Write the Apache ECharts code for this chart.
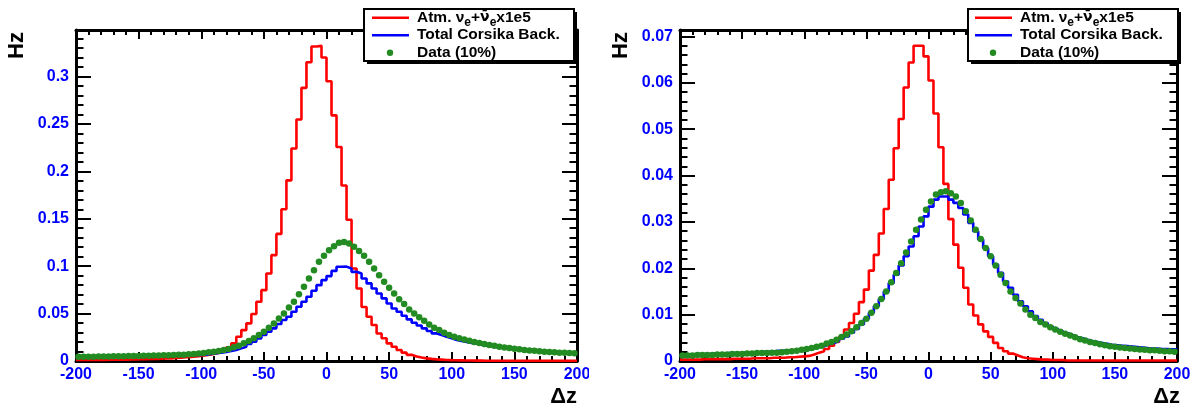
<!DOCTYPE html>
<html><head><meta charset="utf-8">
<script src="https://cdn.jsdelivr.net/npm/echarts@6/dist/echarts.min.js"></script>
<style>html,body{margin:0;padding:0;background:#fff}#c{width:1197px;height:408px}</style>
</head><body><div id="c"></div>
<script>
// ---------- data ----------
const binWidth = 4;
const binCenters = [-198,-194,-190,-186,-182,-178,-174,-170,-166,-162,
-158,-154,-150,-146,-142,-138,-134,-130,-126,-122,
-118,-114,-110,-106,-102,-98,-94,-90,-86,-82,
-78,-74,-70,-66,-62,-58,-54,-50,-46,-42,
-38,-34,-30,-26,-22,-18,-14,-10,-6,-2,
2,6,10,14,18,22,26,30,34,38,
42,46,50,54,58,62,66,70,74,78,
82,86,90,94,98,102,106,110,114,118,
122,126,130,134,138,142,146,150,154,158,
162,166,170,174,178,182,186,190,194,198];

const leftAtmNue = [0.0010,0.0010,0.0011,0.0011,0.0012,0.0012,0.0013,0.0013,0.0014,0.0015,
0.0016,0.0017,0.0018,0.0019,0.0021,0.0022,0.0024,0.0026,0.0028,0.0031,
0.0036,0.0039,0.0043,0.0048,0.0054,0.0062,0.0070,0.0080,0.0095,0.0112,
0.0145,0.0186,0.0256,0.0326,0.0397,0.0495,0.0625,0.0747,0.0923,0.1116,
0.1340,0.1600,0.1905,0.2240,0.2547,0.2880,0.3150,0.3316,0.3323,0.3200,
0.2950,0.2590,0.2256,0.1850,0.1490,0.0975,0.0765,0.0570,0.0467,0.0380,
0.0290,0.0240,0.0186,0.0150,0.0116,0.0088,0.0065,0.0048,0.0036,0.0028,
0.0022,0.0017,0.0014,0.0011,0.0009,0.0008,0.0007,0.0006,0.0005,0.0004,
0.0004,0.0003,0.0003,0.0003,0.0002,0.0002,0.0002,0.0002,0.0002,0.0001,
0.0001,0.0001,0.0001,0.0001,0.0001,0.0001,0.0001,0.0001,0.0001,0.0001];

const leftTotalCorsika = [0.0042,0.0043,0.0043,0.0044,0.0045,0.0045,0.0046,0.0047,0.0047,0.0048,
0.0049,0.0050,0.0051,0.0052,0.0053,0.0054,0.0055,0.0056,0.0057,0.0058,
0.0059,0.0060,0.0062,0.0063,0.0065,0.0067,0.0074,0.0081,0.0088,0.0095,
0.0105,0.0116,0.0133,0.0151,0.0179,0.0204,0.0239,0.0274,0.0309,0.0344,
0.0390,0.0432,0.0467,0.0519,0.0572,0.0625,0.0677,0.0740,0.0800,0.0853,
0.0895,0.0950,0.0993,0.0995,0.0975,0.0940,0.0923,0.0870,0.0818,0.0765,
0.0712,0.0660,0.0607,0.0554,0.0519,0.0477,0.0439,0.0404,0.0375,0.0344,
0.0316,0.0291,0.0274,0.0256,0.0239,0.0221,0.0210,0.0200,0.0190,0.0181,
0.0172,0.0164,0.0156,0.0149,0.0142,0.0135,0.0129,0.0123,0.0117,0.0112,
0.0107,0.0102,0.0098,0.0094,0.0090,0.0087,0.0084,0.0081,0.0079,0.0077];

const leftData = [0.0044,0.0045,0.0045,0.0046,0.0047,0.0047,0.0048,0.0049,0.0050,0.0051,
0.0052,0.0053,0.0054,0.0055,0.0056,0.0057,0.0058,0.0060,0.0061,0.0063,
0.0065,0.0067,0.0070,0.0073,0.0078,0.0084,0.0091,0.0098,0.0105,0.0116,
0.0126,0.0144,0.0161,0.0186,0.0211,0.0239,0.0274,0.0309,0.0351,0.0396,
0.0449,0.0502,0.0565,0.0625,0.0705,0.0782,0.0870,0.0958,0.1046,0.1109,
0.1168,0.1210,0.1246,0.1256,0.1239,0.1204,0.1161,0.1109,0.1046,0.0975,
0.0905,0.0835,0.0772,0.0712,0.0650,0.0600,0.0544,0.0502,0.0460,0.0425,
0.0386,0.0351,0.0326,0.0298,0.0274,0.0256,0.0240,0.0226,0.0213,0.0201,
0.0190,0.0179,0.0169,0.0160,0.0151,0.0143,0.0136,0.0129,0.0123,0.0117,
0.0112,0.0107,0.0102,0.0098,0.0094,0.0091,0.0088,0.0086,0.0084,0.0082];

const rightAtmNue = [0.0003,0.0003,0.0003,0.0003,0.0004,0.0004,0.0004,0.0004,0.0004,0.0004,
0.0005,0.0005,0.0005,0.0005,0.0006,0.0006,0.0006,0.0006,0.0007,0.0007,
0.0007,0.0008,0.0008,0.0009,0.0010,0.0011,0.0014,0.0018,0.0021,0.0026,
0.0033,0.0041,0.0052,0.0068,0.0082,0.0102,0.0127,0.0154,0.0195,0.0229,
0.0275,0.0328,0.0391,0.0459,0.0522,0.0590,0.0644,0.0680,0.0680,0.0657,
0.0605,0.0534,0.0461,0.0382,0.0306,0.0251,0.0201,0.0158,0.0122,0.0098,
0.0079,0.0064,0.0052,0.0039,0.0028,0.0021,0.0016,0.0012,0.0008,0.0006,
0.0005,0.0004,0.0003,0.0003,0.0002,0.0002,0.0002,0.0001,0.0001,0.0001,
0.0001,0.0001,0.0001,0.0001,0.0001,0.0001,0.0001,0.0001,0.0001,0.0001,
0.0001,0.0001,0.0001,0.0001,0.0001,0.0001,0.0001,0.0001,0.0001,0.0001];

const rightTotalCorsika = [0.0014,0.0014,0.0014,0.0015,0.0015,0.0015,0.0016,0.0016,0.0016,0.0017,
0.0017,0.0017,0.0018,0.0018,0.0019,0.0019,0.0020,0.0020,0.0021,0.0022,
0.0022,0.0023,0.0023,0.0024,0.0024,0.0025,0.0027,0.0030,0.0032,0.0036,
0.0039,0.0043,0.0048,0.0053,0.0061,0.0069,0.0079,0.0091,0.0104,0.0118,
0.0134,0.0150,0.0168,0.0186,0.0206,0.0226,0.0247,0.0269,0.0290,0.0312,
0.0333,0.0348,0.0355,0.0355,0.0348,0.0341,0.0330,0.0316,0.0298,0.0280,
0.0262,0.0244,0.0226,0.0208,0.0190,0.0172,0.0158,0.0143,0.0129,0.0118,
0.0107,0.0097,0.0089,0.0082,0.0075,0.0070,0.0065,0.0060,0.0056,0.0052,
0.0049,0.0046,0.0043,0.0041,0.0039,0.0037,0.0035,0.0034,0.0033,0.0032,
0.0031,0.0030,0.0029,0.0028,0.0027,0.0027,0.0026,0.0026,0.0025,0.0025];

const rightData = [0.0012,0.0012,0.0012,0.0013,0.0013,0.0013,0.0013,0.0014,0.0014,0.0014,
0.0015,0.0015,0.0015,0.0016,0.0016,0.0017,0.0017,0.0017,0.0018,0.0018,
0.0019,0.0020,0.0021,0.0022,0.0024,0.0026,0.0028,0.0031,0.0033,0.0038,
0.0041,0.0046,0.0052,0.0057,0.0064,0.0073,0.0082,0.0091,0.0104,0.0118,
0.0134,0.0150,0.0170,0.0190,0.0211,0.0234,0.0258,0.0283,0.0305,0.0326,
0.0344,0.0359,0.0364,0.0366,0.0362,0.0355,0.0341,0.0323,0.0303,0.0283,
0.0263,0.0244,0.0226,0.0206,0.0186,0.0168,0.0150,0.0136,0.0124,0.0111,
0.0100,0.0093,0.0084,0.0079,0.0073,0.0068,0.0063,0.0059,0.0055,0.0051,
0.0047,0.0044,0.0041,0.0039,0.0036,0.0034,0.0032,0.0031,0.0029,0.0028,
0.0027,0.0026,0.0025,0.0024,0.0023,0.0023,0.0022,0.0021,0.0021,0.0020];

const seriesNames = ['Atm. \u03BDe+\u03BD\u0304ex1e5', 'Total Corsika Back.', 'Data (10%)'];
const xRange = [-200, 200];
const xMajor = 50;
const yMaxes = [0.349, 0.0714];
const yMajor = [0.05, 0.01];
const yMinor = [0.01, 0.002];
const xTitle = '\u0394z';
const yTitle = 'Hz';

// ---------- chart ----------
const FONT = '"Liberation Sans", Arial, Helvetica, sans-serif';
const BLACK = '#000';
const GREEN = '#228b22';
const chart = echarts.init(document.getElementById('c'), null, {renderer: 'canvas', width: 1197, height: 408});

const grids = [
  {left: 76, right: 620, top: 30, bottom: 47},
  {left: 680, right: 20, top: 30, bottom: 47}
];

function histPoints(vals) {
  const pts = binCenters.map((c, i) => [c - binWidth / 2, vals[i]]);
  pts.push([binCenters[binCenters.length - 1] + binWidth / 2, vals[vals.length - 1]]);
  return pts;
}
function dotPoints(vals) { return binCenters.map((c, i) => [c, vals[i]]); }

const xAxes = [], yAxes = [], series = [];
[0, 1].forEach(g => {
  ['bottom', 'top'].forEach(pos => {
    xAxes.push({
      gridIndex: g, type: 'value', position: pos, min: xRange[0], max: xRange[1], interval: xMajor,
      axisLine: {show: true, onZero: false, lineStyle: {color: BLACK, width: 3}},
      axisTick: {show: true, inside: true, length: 9, lineStyle: {color: BLACK, width: 2}},
      minorTick: {show: true, splitNumber: 5, length: 5, lineStyle: {color: BLACK, width: 2}},
      splitLine: {show: false}, minorSplitLine: {show: false},
      axisLabel: pos === 'bottom'
        ? {show: true, color: '#0000ff', fontWeight: 'bold', fontSize: 16, fontFamily: FONT, margin: 6}
        : {show: false}
    });
  });
  ['left', 'right'].forEach(pos => {
    // major
    yAxes.push({
      gridIndex: g, type: 'value', position: pos, min: 0, max: yMaxes[g], interval: yMajor[g],
      axisLine: {show: true, onZero: false, lineStyle: {color: BLACK, width: 3}},
      axisTick: {show: true, inside: true, length: 15, lineStyle: {color: BLACK, width: 2}},
      splitLine: {show: false},
      axisLabel: pos === 'left'
        ? {show: true, showMaxLabel: false, color: '#0000ff', fontWeight: 'bold', fontSize: 16, fontFamily: FONT, margin: 7}
        : {show: false}
    });
    // minor
    yAxes.push({
      gridIndex: g, type: 'value', position: pos, min: 0, max: yMaxes[g], interval: yMinor[g],
      axisLine: {show: false, onZero: false}, splitLine: {show: false}, axisLabel: {show: false},
      axisTick: {show: true, inside: true, length: 7.5, lineStyle: {color: BLACK, width: 2}}
    });
  });
  const L = g === 0 ? [leftAtmNue, leftTotalCorsika, leftData] : [rightAtmNue, rightTotalCorsika, rightData];
  series.push({
    name: seriesNames[0], type: 'line', xAxisIndex: 2 * g, yAxisIndex: 4 * g, step: 'end',
    data: histPoints(L[0]), showSymbol: false, symbol: 'none',
    lineStyle: {color: '#ff0000', width: 2.6}, z: 3
  });
  series.push({
    name: seriesNames[1], type: 'line', xAxisIndex: 2 * g, yAxisIndex: 4 * g, step: 'end',
    data: histPoints(L[1]), showSymbol: false, symbol: 'none',
    lineStyle: {color: '#0000ff', width: 2.6}, z: 4
  });
  series.push({
    name: seriesNames[2], type: 'scatter', xAxisIndex: 2 * g, yAxisIndex: 4 * g,
    data: dotPoints(L[2]), symbol: 'circle', symbolSize: 6.5,
    itemStyle: {color: GREEN, opacity: 1}, z: 5
  });
});

// legend boxes & axis titles (ROOT-like)
const graphics = [];
function legendBox(bx, tx, lx0, lx1, dotX) {
  const by = 9, bw = 210, bh = 52;
  graphics.push({type: 'rect', z: 100, shape: {x: bx + 3, y: by + 3, width: bw, height: bh}, style: {fill: BLACK}});
  graphics.push({type: 'rect', z: 101, shape: {x: bx, y: by, width: bw, height: bh}, style: {fill: '#fff', stroke: BLACK, lineWidth: 2}});
  const rows = [17.7, 35.2, 52.7];
  graphics.push({type: 'line', z: 102, shape: {x1: lx0, y1: rows[0], x2: lx1, y2: rows[0]}, style: {stroke: '#ff0000', lineWidth: 2.6}});
  graphics.push({type: 'line', z: 102, shape: {x1: lx0, y1: rows[1], x2: lx1, y2: rows[1]}, style: {stroke: '#0000ff', lineWidth: 2.6}});
  graphics.push({type: 'circle', z: 102, shape: {cx: dotX, cy: rows[2], r: 3.2}, style: {fill: GREEN}});
  const t = {fontFamily: FONT, fontWeight: 'bold', fontSize: 15.5, fill: BLACK, lineHeight: 22};
  const n = {fontFamily: '"DejaVu Sans", sans-serif', fontWeight: 'bold', fontSize: 14, fill: BLACK, lineHeight: 22};
  const s = {fontFamily: FONT, fontWeight: 'bold', fontSize: 12, fill: BLACK, lineHeight: 12, verticalAlign: 'bottom'};
  graphics.push({type: 'text', z: 103, x: tx, y: rows[0], style: {
    text: '{t|Atm. \u03BD}{s|e}{t|+}{n|\u03BD\u0304}{s|e}{t|x1e5}', rich: {t: t, s: s, n: n},
    align: 'left', verticalAlign: 'middle'}});
  graphics.push({type: 'text', z: 103, x: tx, y: rows[1], style: {
    text: seriesNames[1], font: 'bold 15.5px ' + FONT, fill: BLACK, align: 'left', verticalAlign: 'middle'}});
  graphics.push({type: 'text', z: 103, x: tx, y: rows[2], style: {
    text: seriesNames[2], font: 'bold 15.5px ' + FONT, fill: BLACK, align: 'left', verticalAlign: 'middle'}});
}
legendBox(364, 417, 372, 409, 390);
legendBox(968, 1020, 975, 1012, 993);

// left pad ends before its last x label is complete (as in the reference)
graphics.push({type: 'rect', z: 99, shape: {x: 589, y: 364, width: 50, height: 24}, style: {fill: '#fff'}});

[[17, 577], [621, 1180]].forEach(([hx, dx]) => {
  graphics.push({type: 'text', z: 103, x: hx, y: 45.5, rotation: Math.PI / 2, style: {
    text: yTitle, font: 'bold 22px ' + FONT, fill: BLACK, align: 'center', verticalAlign: 'middle'}});
  graphics.push({type: 'text', z: 103, x: dx, y: 397, style: {
    text: xTitle, font: 'bold 22px ' + FONT, fill: BLACK, align: 'right', verticalAlign: 'middle'}});
});

chart.setOption({
  animation: false,
  backgroundColor: '#fff',
  grid: grids,
  xAxis: xAxes,
  yAxis: yAxes,
  series: series,
  graphic: graphics
});
</script>
</body></html>
